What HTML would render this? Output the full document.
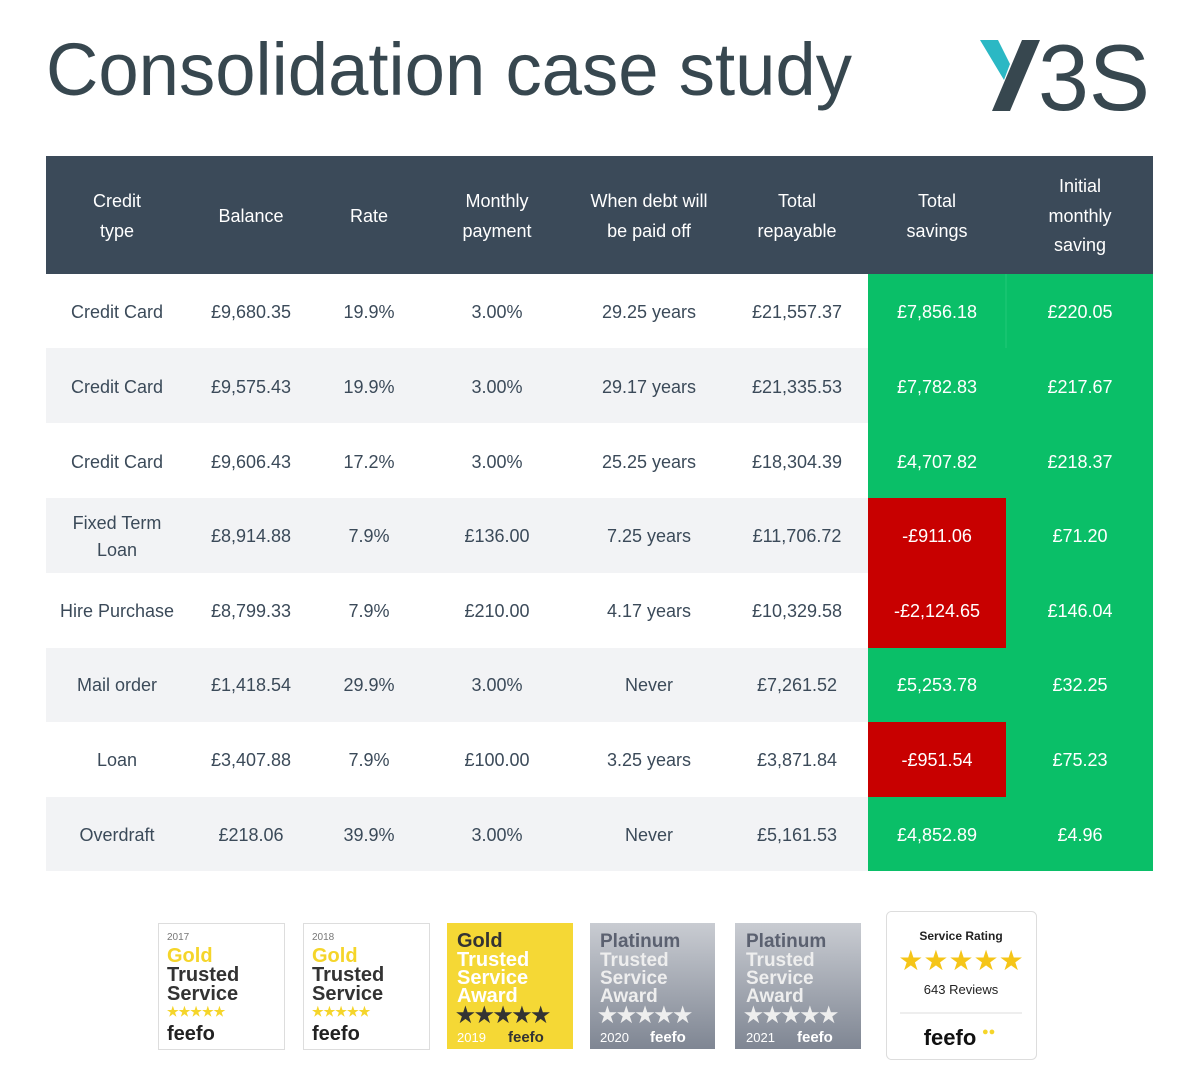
<!DOCTYPE html>
<html><head><meta charset="utf-8"><style>
html,body{margin:0;padding:0;background:#fff;}
svg{display:block;}
text{font-family:"Liberation Sans",sans-serif;}
</style></head><body>
<svg width="1200" height="1091" viewBox="0 0 1200 1091" xmlns="http://www.w3.org/2000/svg">
<rect width="1200" height="1091" fill="#fff"/>
<text x="46" y="95" font-size="74" fill="#37474f" textLength="806" lengthAdjust="spacingAndGlyphs">Consolidation case study</text>
<!-- logo -->
<polygon points="980,40 998,40 1010,64 1004,80" fill="#2bb8c4"/>
<polygon points="1022,40 1040,40 1010,111 992,111" fill="#37474f"/>
<text x="1038" y="110" font-size="94" fill="#37474f" textLength="112" lengthAdjust="spacingAndGlyphs">3S</text>
<!-- header -->
<rect x="46" y="156" width="1107" height="118" fill="#3b4a59"/>
<g fill="#fff" font-size="18" text-anchor="middle">
<text x="117" y="207">Credit</text><text x="117" y="237">type</text>
<text x="251" y="222">Balance</text>
<text x="369" y="222">Rate</text>
<text x="497" y="207">Monthly</text><text x="497" y="237">payment</text>
<text x="649" y="207">When debt will</text><text x="649" y="237">be paid off</text>
<text x="797" y="207">Total</text><text x="797" y="237">repayable</text>
<text x="937" y="207">Total</text><text x="937" y="237">savings</text>
<text x="1080" y="192">Initial</text><text x="1080" y="222">monthly</text><text x="1080" y="251">saving</text>
</g>
<!-- row backgrounds -->
<rect x="46" y="348" width="822" height="75" fill="#f2f3f5"/>
<rect x="46" y="498" width="822" height="75" fill="#f2f3f5"/>
<rect x="46" y="648" width="822" height="74" fill="#f2f3f5"/>
<rect x="46" y="797" width="822" height="74" fill="#f2f3f5"/>
<rect x="868" y="274" width="285" height="597" fill="#0abf68"/>
<line x1="1006" y1="274" x2="1006" y2="348" stroke="#22c978" stroke-width="1"/>
<rect x="868" y="498" width="138" height="150" fill="#c80000"/>
<rect x="868" y="722" width="138" height="75" fill="#c80000"/>
<g fill="#3b4a59" font-size="18" text-anchor="middle">
<text x="117" y="318">Credit Card</text><text x="251" y="318">£9,680.35</text><text x="369" y="318">19.9%</text><text x="497" y="318">3.00%</text><text x="649" y="318">29.25 years</text><text x="797" y="318">£21,557.37</text>
<text x="117" y="393">Credit Card</text><text x="251" y="393">£9,575.43</text><text x="369" y="393">19.9%</text><text x="497" y="393">3.00%</text><text x="649" y="393">29.17 years</text><text x="797" y="393">£21,335.53</text>
<text x="117" y="468">Credit Card</text><text x="251" y="468">£9,606.43</text><text x="369" y="468">17.2%</text><text x="497" y="468">3.00%</text><text x="649" y="468">25.25 years</text><text x="797" y="468">£18,304.39</text>
<text x="117" y="529">Fixed Term</text><text x="117" y="556">Loan</text><text x="251" y="542">£8,914.88</text><text x="369" y="542">7.9%</text><text x="497" y="542">£136.00</text><text x="649" y="542">7.25 years</text><text x="797" y="542">£11,706.72</text>
<text x="117" y="617">Hire Purchase</text><text x="251" y="617">£8,799.33</text><text x="369" y="617">7.9%</text><text x="497" y="617">£210.00</text><text x="649" y="617">4.17 years</text><text x="797" y="617">£10,329.58</text>
<text x="117" y="691">Mail order</text><text x="251" y="691">£1,418.54</text><text x="369" y="691">29.9%</text><text x="497" y="691">3.00%</text><text x="649" y="691">Never</text><text x="797" y="691">£7,261.52</text>
<text x="117" y="766">Loan</text><text x="251" y="766">£3,407.88</text><text x="369" y="766">7.9%</text><text x="497" y="766">£100.00</text><text x="649" y="766">3.25 years</text><text x="797" y="766">£3,871.84</text>
<text x="117" y="841">Overdraft</text><text x="251" y="841">£218.06</text><text x="369" y="841">39.9%</text><text x="497" y="841">3.00%</text><text x="649" y="841">Never</text><text x="797" y="841">£5,161.53</text>
</g>
<g fill="#fff" font-size="18" text-anchor="middle">
<text x="937" y="318">£7,856.18</text><text x="1080" y="318">£220.05</text>
<text x="937" y="393">£7,782.83</text><text x="1080" y="393">£217.67</text>
<text x="937" y="468">£4,707.82</text><text x="1080" y="468">£218.37</text>
<text x="937" y="542">-£911.06</text><text x="1080" y="542">£71.20</text>
<text x="937" y="617">-£2,124.65</text><text x="1080" y="617">£146.04</text>
<text x="937" y="691">£5,253.78</text><text x="1080" y="691">£32.25</text>
<text x="937" y="766">-£951.54</text><text x="1080" y="766">£75.23</text>
<text x="937" y="841">£4,852.89</text><text x="1080" y="841">£4.96</text>
</g>
<!-- badges -->
<defs><linearGradient id="pg" x1="0" y1="0" x2="0" y2="1"><stop offset="0" stop-color="#c9ccd2"/><stop offset="1" stop-color="#7f8693"/></linearGradient></defs>
<g font-weight="bold">
<rect x="158.5" y="923.5" width="126" height="126" fill="#fff" stroke="#ddd"/>
<text x="167" y="940" font-size="10" font-weight="normal" fill="#777">2017</text>
<text x="167" y="962" font-size="20" fill="#f5d52a">Gold</text>
<text x="167" y="981" font-size="20" fill="#333">Trusted</text>
<text x="167" y="1000" font-size="20" fill="#333">Service</text>
<text x="167" y="1016" font-size="13" fill="#f5d52a">★★★★★</text>
<text x="167" y="1040" font-size="20" fill="#222">feefo</text>
<rect x="303.5" y="923.5" width="126" height="126" fill="#fff" stroke="#ddd"/>
<text x="312" y="940" font-size="10" font-weight="normal" fill="#777">2018</text>
<text x="312" y="962" font-size="20" fill="#f5d52a">Gold</text>
<text x="312" y="981" font-size="20" fill="#333">Trusted</text>
<text x="312" y="1000" font-size="20" fill="#333">Service</text>
<text x="312" y="1016" font-size="13" fill="#f5d52a">★★★★★</text>
<text x="312" y="1040" font-size="20" fill="#222">feefo</text>
<rect x="447" y="923" width="126" height="126" fill="#f5d835"/>
<text x="457" y="947" font-size="20" fill="#333">Gold</text>
<text x="457" y="966" font-size="20" fill="#fff">Trusted</text>
<text x="457" y="984" font-size="20" fill="#fff">Service</text>
<text x="457" y="1002" font-size="20" fill="#fff">Award</text>
<text x="456" y="1022" font-size="21" fill="#333">★★★★★</text>
<text x="457" y="1042" font-size="13" font-weight="normal" fill="#fff">2019</text>
<text x="508" y="1042" font-size="15" fill="#333">feefo</text>
<rect x="590" y="923" width="125" height="126" fill="url(#pg)"/>
<text x="600" y="947" font-size="19" fill="#5b6170">Platinum</text>
<text x="600" y="966" font-size="19" fill="#eee">Trusted</text>
<text x="600" y="984" font-size="19" fill="#eee">Service</text>
<text x="600" y="1002" font-size="19" fill="#eee">Award</text>
<text x="598" y="1022" font-size="21" fill="#eee">★★★★★</text>
<text x="600" y="1042" font-size="13" font-weight="normal" fill="#fff">2020</text>
<text x="650" y="1042" font-size="15" fill="#fff">feefo</text>
<rect x="735" y="923" width="126" height="126" fill="url(#pg)"/>
<text x="746" y="947" font-size="19" fill="#5b6170">Platinum</text>
<text x="746" y="966" font-size="19" fill="#eee">Trusted</text>
<text x="746" y="984" font-size="19" fill="#eee">Service</text>
<text x="746" y="1002" font-size="19" fill="#eee">Award</text>
<text x="744" y="1022" font-size="21" fill="#eee">★★★★★</text>
<text x="746" y="1042" font-size="13" font-weight="normal" fill="#fff">2021</text>
<text x="797" y="1042" font-size="15" fill="#fff">feefo</text>
<rect x="886.5" y="911.5" width="150" height="148" rx="5" fill="#fff" stroke="#ddd"/>
<text x="961" y="940" font-size="12" text-anchor="middle" fill="#222">Service Rating</text>
<text x="961" y="970" font-size="28" text-anchor="middle" fill="#f5c518" font-weight="normal">★★★★★</text>
<text x="961" y="994" font-size="13" text-anchor="middle" fill="#222" font-weight="normal">643 Reviews</text>
<line x1="900" y1="1013" x2="1022" y2="1013" stroke="#ddd"/>
<text x="950" y="1045" font-size="22" text-anchor="middle" fill="#111">feefo</text>
<text x="982" y="1035" font-size="11" fill="#f5d52a">●●</text>
</g>
</svg>
</body></html>
